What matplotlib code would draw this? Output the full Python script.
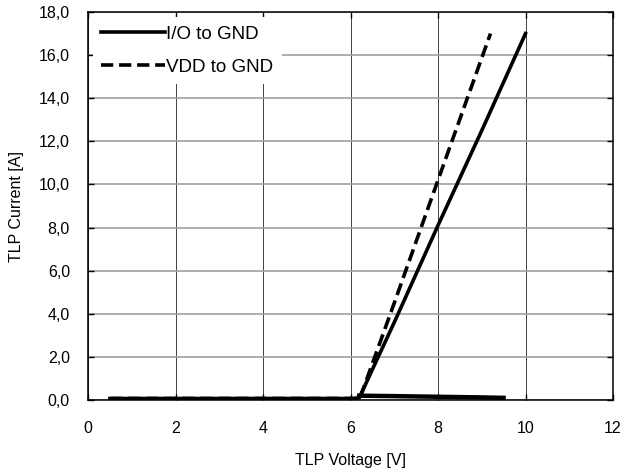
import matplotlib
matplotlib.use("Agg")
import matplotlib.pyplot as plt
import numpy as np

plt.rcParams['font.family'] = ['Liberation Sans', 'DejaVu Sans']

# TLP pulse data (V, A)
io_v = [0.5, 1.0, 2.0, 3.0, 4.0, 5.0, 6.0, 6.2, 7.0, 8.0, 9.0, 10.0]
io_i = [0.07, 0.07, 0.07, 0.07, 0.07, 0.07, 0.07, 0.1, 3.6, 8.1, 12.5, 17.0]
vdd_v = [0.5, 1.0, 2.0, 3.0, 4.0, 5.0, 6.0, 6.2, 7.0, 8.0, 9.2]
vdd_i = [0.07, 0.07, 0.07, 0.07, 0.07, 0.07, 0.07, 0.0, 4.5, 10.2, 17.0]
# leakage tail after snapback
leak_v = [6.2, 7.0, 8.0, 9.0, 9.5]
leak_i = [0.2, 0.18, 0.15, 0.12, 0.1]

xticks = np.arange(0, 13, 2)
yticks = np.arange(0, 19, 2)
ylabels = [('%.1f' % v).replace('.', ',') for v in yticks]

fig = plt.figure(figsize=(6.22, 4.72), dpi=100)
ax = fig.add_axes([88/622, 72/472, 525/622, 388/472])

ax.plot(leak_v, leak_i, color='k', linewidth=3.2)
ax.plot(io_v, io_i, color='k', linewidth=2.6, label='I/O to GND')
ax.plot(vdd_v, vdd_i, color='k', linewidth=2.6, linestyle=(0, (3.4, 1.6)), label='VDD to GND')

ax.set_xlim(0, 12)
ax.set_ylim(0, 18)
ax.set_xticks(xticks)
ax.set_yticks(yticks)
ax.set_yticklabels(ylabels)
ax.xaxis.grid(True, color='#404040', linewidth=0.7)
ax.yaxis.grid(True, color='#a0a0a0', linewidth=1.2)
ax.set_axisbelow(True)
ax.tick_params(direction='in', labelsize=11.5, length=4, width=1, top=True, right=True)
ax.tick_params(axis='x', pad=15)
ax.tick_params(axis='y', pad=13)
for s in ax.spines.values():
    s.set_linewidth(1.1)
    s.set_zorder(6)

ax.set_xlabel('TLP Voltage [V]', fontsize=11.5, va='center')
ax.set_ylabel('TLP Current [A]', fontsize=11.5, va='center')
ax.xaxis.set_label_coords(0.5, (400 - 461) / 388)
ax.yaxis.set_label_coords((17 - 88) / 525, 0.5)

leg = ax.legend(loc='upper left', bbox_to_anchor=(5/525, 1 - 5/388), fontsize=13.5, handlelength=3.4,
                handletextpad=0.05, borderaxespad=0.0, borderpad=0.45, labelspacing=0.85,
                fancybox=False, framealpha=1, facecolor='white', edgecolor='none')

fig.savefig('out.png', dpi=100)
